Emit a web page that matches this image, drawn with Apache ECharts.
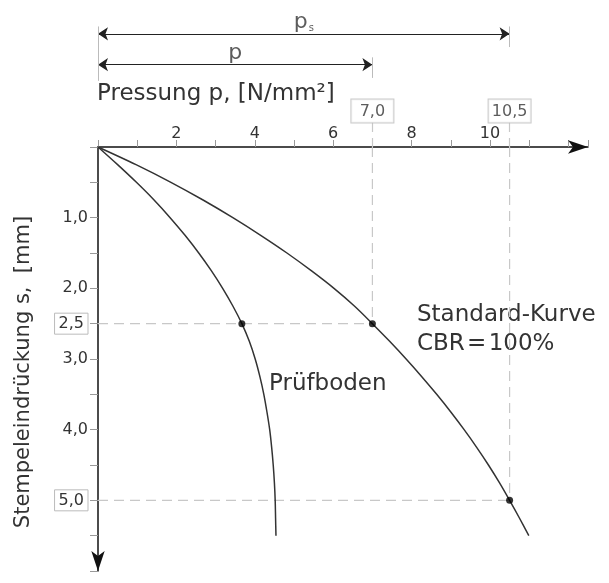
<!DOCTYPE html>
<html>
<head>
<meta charset="utf-8">
<script src="https://cdn.jsdelivr.net/npm/echarts@6/dist/echarts.min.js"></script>
<style>
  html, body { margin: 0; padding: 0; background: #fff; }
  #container { width: 609px; height: 583px; }
</style>
</head>
<body>
<div id="container"></div>
<script>
// Eindrückung s [mm] (Stützstellen der Kurven)
var sValues = [0, 0.25, 0.5, 0.75, 1.0, 1.25, 1.5, 1.75, 2.0, 2.25, 2.5, 2.75,
    3.0, 3.25, 3.5, 3.75, 4.0, 4.25, 4.5, 4.75, 5.0, 5.25, 5.5];
// Pressung p [N/mm2] der Standard-Kurve (CBR = 100%)
var pStandard = [0, 0.97, 1.86, 2.68, 3.44, 4.15, 4.82, 5.44, 6.02, 6.54, 7.0, 7.44,
    7.86, 8.26, 8.64, 9.0, 9.34, 9.66, 9.96, 10.24, 10.5, 10.75, 10.99];
// Pressung p [N/mm2] des Prüfbodens
var pPruef = [0, 0.5, 0.98, 1.43, 1.84, 2.22, 2.57, 2.89, 3.18, 3.44, 3.67, 3.86,
    4.01, 4.13, 4.23, 4.31, 4.38, 4.43, 4.47, 4.5, 4.52, 4.53, 4.54];

// Bezugspunkte
var refS = [2.5, 5.0];
var refPStandard = [7.0, 10.5];
var refPPruef = [3.67];

// Achsenbeschriftungen
var xTickLabels = [2, 4, 6, 8, 10];
var yTickLabels = [1, 2, 2.5, 3, 4, 5];
var yBoxed = [2.5, 5];

var font = 'DejaVu Sans';
var textColor = '#333';

function fmt(v) {
    return v.toFixed(1).replace('.', ',');
}

function toPairs(ps, ss) {
    var out = [];
    for (var i = 0; i < ps.length; i++) {
        out.push([ps[i], ss[i]]);
    }
    return out;
}

var dashed = { color: '#c8c8c8', width: 1.2, type: [10, 6] };

var dom = document.getElementById('container');
var myChart = echarts.init(dom);

var series = [];

// gestrichelte Hilfslinien im Diagramm
series.push({
    type: 'line', xAxisIndex: 0, yAxisIndex: 0, symbol: 'none', silent: true,
    lineStyle: dashed, data: [[0, refS[0]], [refPStandard[0], refS[0]]]
});
series.push({
    type: 'line', xAxisIndex: 0, yAxisIndex: 0, symbol: 'none', silent: true,
    lineStyle: dashed, data: [[0, refS[1]], [refPStandard[1], refS[1]]]
});
series.push({
    type: 'line', xAxisIndex: 0, yAxisIndex: 0, symbol: 'none', silent: true,
    lineStyle: dashed, data: [[refPStandard[0], 0], [refPStandard[0], refS[0]]]
});
series.push({
    type: 'line', xAxisIndex: 0, yAxisIndex: 0, symbol: 'none', silent: true,
    lineStyle: dashed, data: [[refPStandard[1], 0], [refPStandard[1], refS[1]]]
});

// Kurven
series.push({
    name: 'Standard-Kurve', type: 'line', xAxisIndex: 0, yAxisIndex: 0,
    symbol: 'none', smooth: 0.3, z: 5,
    lineStyle: { color: '#333', width: 1.5 },
    data: toPairs(pStandard, sValues)
});
series.push({
    name: 'Prüfboden', type: 'line', xAxisIndex: 0, yAxisIndex: 0,
    symbol: 'none', smooth: 0.3, z: 5,
    lineStyle: { color: '#333', width: 1.5 },
    data: toPairs(pPruef, sValues)
});

// Punkte
series.push({
    type: 'scatter', xAxisIndex: 0, yAxisIndex: 0, symbolSize: 7, z: 6,
    itemStyle: { color: '#000' },
    data: [[refPPruef[0], refS[0]], [refPStandard[0], refS[0]], [refPStandard[1], refS[1]]]
});

// oberer Bereich: Bemaßung p und ps
var dimPs = 7.7, dimP = 5.6;
series.push({
    type: 'lines', coordinateSystem: 'cartesian2d', xAxisIndex: 1, yAxisIndex: 1,
    symbol: ['arrow', 'arrow'], symbolSize: 10, silent: true,
    lineStyle: { color: '#222', width: 1, opacity: 1 },
    data: [
        { coords: [[0, dimPs], [refPStandard[1], dimPs]] },
        { coords: [[0, dimP], [refPStandard[0], dimP]] }
    ]
});
// Maßhilfslinien
series.push({
    type: 'lines', coordinateSystem: 'cartesian2d', xAxisIndex: 1, yAxisIndex: 1,
    silent: true, lineStyle: { color: '#bbb', width: 1, opacity: 1 },
    data: [
        { coords: [[0, 8.2], [0, 4.5]] },
        { coords: [[refPStandard[0], 6.1], [refPStandard[0], 4.7]] },
        { coords: [[refPStandard[1], 8.2], [refPStandard[1], 6.8]] }
    ]
});
// gestrichelte Verlängerungen über der Achse
series.push({
    type: 'lines', coordinateSystem: 'cartesian2d', xAxisIndex: 1, yAxisIndex: 1,
    silent: true, lineStyle: { color: '#c8c8c8', width: 1.2, type: [10, 6], opacity: 1 },
    data: [
        { coords: [[refPStandard[0], 1.7], [refPStandard[0], 0]] },
        { coords: [[refPStandard[1], 1.7], [refPStandard[1], 0]] }
    ]
});
// Maßzahlen p, ps und Kästchen 7,0 / 10,5
series.push({
    type: 'scatter', xAxisIndex: 1, yAxisIndex: 1, symbolSize: 0, silent: true, z: 4,
    label: {
        show: true, position: 'inside', fontFamily: font, color: textColor,
        formatter: function (params) { return params.data.t; },
        rich: {
            big: { fontFamily: font, fontSize: 22, color: textColor },
            sub: { fontFamily: font, fontSize: 10, color: textColor, verticalAlign: 'bottom', padding: [9, 0, 0, 1] },
            box: {
                fontFamily: font, fontSize: 16, color: textColor, width: 34, align: 'center',
                borderColor: '#bbb', borderWidth: 1, padding: [4, 4, 3, 4], backgroundColor: '#fff'
            }
        }
    },
    data: [
        { value: [refPStandard[1] / 2, 8.5], t: '{big|p}{sub|s}' },
        { value: [refPStandard[0] / 2, 6.4], t: '{big|p}' },
        { value: [refPStandard[0], 2.45], t: '{box|' + fmt(refPStandard[0]) + '}' },
        { value: [refPStandard[1], 2.45], t: '{box|' + fmt(refPStandard[1]) + '}' }
    ]
});

option = {
    backgroundColor: '#fff',
    animation: false,
    grid: [
        { left: 98, right: 21, top: 147, bottom: 12 },
        { left: 98, right: 21, top: 0, height: 147 }
    ],
    xAxis: [{
        gridIndex: 0, type: 'value', position: 'top', min: 0, max: 12.5, interval: 1,
        splitLine: { show: false },
        axisLine: { lineStyle: { color: '#111', width: 1.5 }, symbol: ['none', 'arrow'], symbolSize: [10, 20] },
        axisTick: { length: 7, lineStyle: { color: '#999', width: 1 } },
        axisLabel: {
            fontFamily: font, fontSize: 16, color: textColor, margin: 5,
            formatter: function (v) { return xTickLabels.indexOf(v) >= 0 ? String(v) : ''; }
        }
    }, {
        gridIndex: 1, type: 'value', min: 0, max: 12.5, show: false
    }],
    yAxis: [{
        gridIndex: 0, type: 'value', inverse: true, min: 0, max: 6, interval: 0.5,
        splitLine: { show: false },
        axisLine: { lineStyle: { color: '#111', width: 1.5 }, symbol: ['arrow', 'none'], symbolSize: [10, 20] },
        axisTick: { length: 8, lineStyle: { color: '#999', width: 1 } },
        axisLabel: {
            fontFamily: font, fontSize: 16, color: textColor, margin: 10,
            formatter: function (v) {
                if (yTickLabels.indexOf(v) < 0) return '';
                if (yBoxed.indexOf(v) >= 0) return '{box|' + fmt(v) + '}';
                return fmt(v);
            },
            rich: {
                box: {
                    fontFamily: font, fontSize: 16, color: textColor,
                    borderColor: '#bbb', borderWidth: 1, padding: [3, 4, 2, 4]
                }
            }
        },
        name: 'Stempeleindrückung s,  [mm]',
        nameLocation: 'middle', nameRotate: 90, nameGap: 64,
        nameTextStyle: { fontFamily: font, fontSize: 21, color: textColor, padding: [0, 0, 0, -26] }
    }, {
        gridIndex: 1, type: 'value', min: 0, max: 10, show: false
    }],
    graphic: [
        { type: 'text', left: 97, top: 83, style: { text: 'Pressung p, [N/mm²]', font: '23px "DejaVu Sans"', fill: textColor } },
        { type: 'text', left: 269, top: 373, style: { text: 'Prüfboden', font: '23px "DejaVu Sans"', fill: textColor } },
        { type: 'text', left: 417, top: 301, style: { text: 'Standard-Kurve\nCBR\u200a=\u200a100%', font: '23px "DejaVu Sans"', fill: textColor, lineHeight: 29 } }
    ],
    series: series
};

if (option && typeof option === 'object') {
    myChart.setOption(option, true);
}
</script>
</body>
</html>
